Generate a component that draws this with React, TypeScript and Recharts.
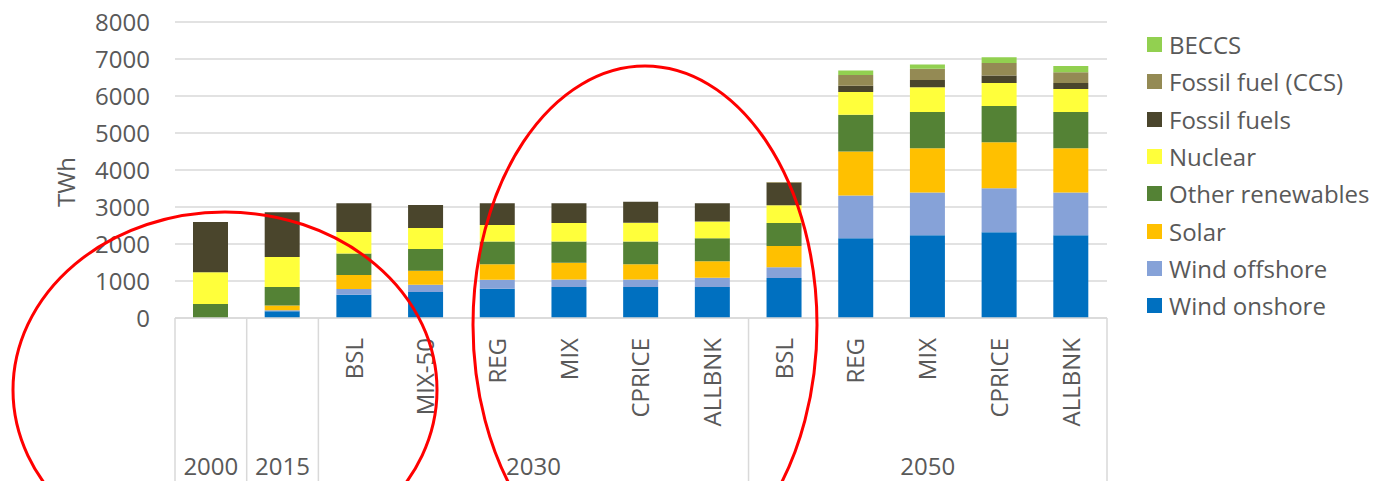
import { BarChart, Bar, XAxis, YAxis, CartesianGrid } from 'recharts';

// category labels
const years = ['2000', '2015', '2030', '2030', '2030', '2030', '2030', '2030', '2050', '2050', '2050', '2050', '2050'];
const scenarios = ['', '', 'BSL', 'MIX-50', 'REG', 'MIX', 'CPRICE', 'ALLBNK', 'BSL', 'REG', 'MIX', 'CPRICE', 'ALLBNK'];
const yTicks = [0, 1000, 2000, 3000, 4000, 5000, 6000, 7000, 8000];

// TWh per technology
const windOnshore = [0, 180, 630, 700, 790, 840, 840, 840, 1080, 2155, 2235, 2315, 2235];
const windOffshore = [0, 30, 155, 200, 245, 200, 200, 245, 290, 1155, 1155, 1190, 1155];
const solar = [0, 125, 380, 380, 415, 450, 415, 450, 575, 1190, 1200, 1245, 1200];
const otherRenewables = [380, 505, 575, 585, 615, 575, 615, 620, 620, 990, 980, 980, 980];
const nuclear = [855, 810, 585, 570, 450, 505, 505, 450, 485, 615, 665, 620, 620];
const fossilFuels = [1360, 1207, 775, 620, 585, 530, 570, 495, 605, 170, 200, 205, 160];
const fossilCCS = [0, 0, 0, 0, 0, 0, 0, 0, 20, 290, 300, 335, 290];
const beccs = [0, 0, 0, 0, 0, 0, 0, 0, 0, 125, 115, 160, 170];

const series = [
    { key: 'windOnshore', name: 'Wind onshore', color: '#0070C0', values: windOnshore },
    { key: 'windOffshore', name: 'Wind offshore', color: '#86A2D8', values: windOffshore },
    { key: 'solar', name: 'Solar', color: '#FFC000', values: solar },
    { key: 'otherRenewables', name: 'Other renewables', color: '#548235', values: otherRenewables },
    { key: 'nuclear', name: 'Nuclear', color: '#FFFF3B', values: nuclear },
    { key: 'fossilFuels', name: 'Fossil fuels', color: '#4A452C', values: fossilFuels },
    { key: 'fossilCCS', name: 'Fossil fuel (CCS)', color: '#948A54', values: fossilCCS },
    { key: 'beccs', name: 'BECCS', color: '#92D050', values: beccs },
];

const data = years.map((year, i) => {
    const row: Record<string, string | number> = { id: `${year}-${scenarios[i]}-${i}` };
    series.forEach((s) => { row[s.key] = s.values[i]; });
    return row;
});

const W = 1382;
const H = 481;
const PLOT_LEFT = 175;
const PLOT_RIGHT = 1107;
const TEXT = '#595959';
const GRID = '#d9d9d9';
const FONT = "'Open Sans', sans-serif";
const FS = 24;
const BAND = (PLOT_RIGHT - PLOT_LEFT) / years.length;

function CategoryTick(props: any) {
    const { x, y, index } = props;
    const bw = props.payload && props.payload.offset ? props.payload.offset * 2 : BAND;
    const year = years[index];
    const first = index === 0 || years[index - 1] !== year;
    const last = index === years.length - 1;
    const groupLen = years.filter((v) => v === year).length;
    const label = scenarios[index];
    return (
        <g>
            {first && <line x1={x - bw / 2} x2={x - bw / 2} y1={y} y2={H} stroke={GRID} strokeWidth={1.5} />}
            {last && <line x1={x + bw / 2} x2={x + bw / 2} y1={y} y2={H} stroke={GRID} strokeWidth={1.5} />}
            {label && (
                <text
                    x={x}
                    y={y + 20}
                    dy="0.35em"
                    transform={`rotate(-90 ${x} ${y + 20})`}
                    textAnchor="end"
                    fill={TEXT}
                    fontSize={FS}
                    fontFamily={FONT}
                >
                    {label}
                </text>
            )}
            {first && (
                <text
                    x={x - bw / 2 + (groupLen * bw) / 2}
                    y={y + 157}
                    textAnchor="middle"
                    fill={TEXT}
                    fontSize={FS}
                    fontFamily={FONT}
                >
                    {year}
                </text>
            )}
        </g>
    );
}

export default function App() {
    const legendItems = [...series].reverse();
    return (
        <div style={{ position: 'absolute', left: 0, top: 0, width: W, height: H, background: '#fff', fontFamily: FONT }}>
            <BarChart
                width={W}
                height={H}
                data={data}
                margin={{ top: 22, right: W - PLOT_RIGHT, left: 0, bottom: 0 }}
                barCategoryGap={0}
            >
                <CartesianGrid vertical={false} stroke={GRID} strokeWidth={1.5} />
                <XAxis
                    dataKey="id"
                    interval={0}
                    height={163}
                    tickLine={false}
                    tickSize={0}
                    tickMargin={0}
                    axisLine={{ stroke: GRID, strokeWidth: 1.5 }}
                    tick={<CategoryTick />}
                />
                <YAxis
                    width={PLOT_LEFT}
                    domain={[0, 8000]}
                    ticks={yTicks}
                    interval={0}
                    axisLine={false}
                    tickLine={false}
                    tickSize={0}
                    tickMargin={25}
                    tick={{ fill: TEXT, fontSize: FS, fontFamily: FONT }}
                    label={{
                        content: (p: any) => {
                            const vb = p.viewBox || { x: 0, y: 22, height: 296 };
                            const cx = vb.x + 67;
                            const cy = vb.y + vb.height / 2 + 12;
                            return (
                                <text
                                    x={cx}
                                    y={cy}
                                    dy="0.35em"
                                    transform={`rotate(-90 ${cx} ${cy})`}
                                    textAnchor="middle"
                                    fill={TEXT}
                                    fontSize={FS}
                                    fontFamily={FONT}
                                >
                                    TWh
                                </text>
                            );
                        },
                    }}
                />
                {series.map((s) => (
                    <Bar key={s.key} dataKey={s.key} name={s.name} stackId="a" fill={s.color} barSize={35} isAnimationActive={false} />
                ))}
            </BarChart>

            {/* legend, top entry = top of stack */}
            <div style={{ position: 'absolute', left: 1147, top: 26 }}>
                {legendItems.map((s) => (
                    <div key={s.key} style={{ display: 'flex', alignItems: 'center', height: 37.3 }}>
                        <div style={{ width: 15, height: 15, background: s.color, marginRight: 7 }} />
                        <span style={{ fontSize: FS, color: TEXT, whiteSpace: 'nowrap' }}>{s.name}</span>
                    </div>
                ))}
            </div>

            {/* red hand-drawn annotation ellipses */}
            <svg width={W} height={H} style={{ position: 'absolute', left: 0, top: 0, pointerEvents: 'none' }}>
                <ellipse cx={225} cy={390} rx={212} ry={178} fill="none" stroke="#ff0000" strokeWidth={3} />
                <ellipse cx={645} cy={325} rx={172} ry={259} fill="none" stroke="#ff0000" strokeWidth={3} />
            </svg>
        </div>
    );
}
